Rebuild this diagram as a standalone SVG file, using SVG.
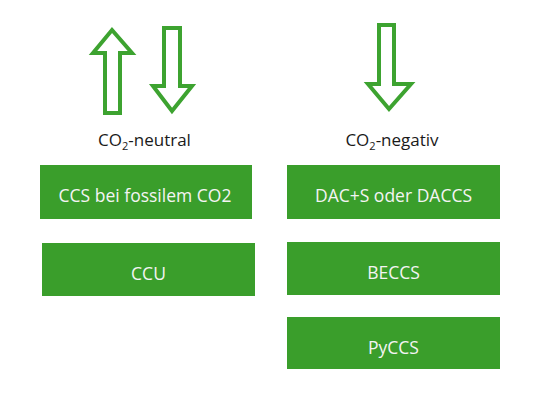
<svg xmlns="http://www.w3.org/2000/svg" width="540" height="400" viewBox="0 0 540 400">
<style>
.arrow{fill:#ffffff;stroke:#3da330;stroke-width:4;stroke-linejoin:miter}
.box{fill:#3a9e2b}
.bt{font-family:"Open Sans","Noto Sans",sans-serif;font-size:17.5px;fill:#f4f4f4;text-anchor:middle}
.lbl{font-family:"Open Sans","Noto Sans",sans-serif;font-size:17px;fill:#1a1a1a;text-anchor:middle}
</style>
<rect width="540" height="400" fill="#ffffff"/>
<g id="arrows">
<path class="arrow" d="M112,30 L132,53 L120,53 L120,113 L105,113 L105,53 L93,53 Z"/>
<path class="arrow" d="M164,28 L180,28 L180,86 L192,86 L172,111 L153,86 L164,86 Z"/>
<path class="arrow" d="M379,25 L394,25 L394,84 L411,84 L389,109 L368,84 L379,84 Z"/>
</g>
<g id="label-neutral">
<text class="lbl" x="144.5" y="146">CO<tspan font-size="11" dy="4">2</tspan><tspan dy="-4">-neutral</tspan></text>
</g>
<g id="label-negativ">
<text class="lbl" x="392" y="146">CO<tspan font-size="11" dy="4">2</tspan><tspan dy="-4">-negativ</tspan></text>
</g>
<g id="ccs-fossil">
<rect class="box" x="40" y="165" width="212" height="54"/>
<text class="bt" x="145" y="202">CCS bei fossilem CO2</text>
</g>
<g id="ccu">
<rect class="box" x="42" y="243" width="213" height="53"/>
<text class="bt" x="148.5" y="280">CCU</text>
</g>
<g id="daccs">
<rect class="box" x="287" y="165" width="213" height="54"/>
<text class="bt" x="393.5" y="202">DAC+S oder DACCS</text>
</g>
<g id="beccs">
<rect class="box" x="287" y="242" width="213" height="53"/>
<text class="bt" x="393.5" y="279">BECCS</text>
</g>
<g id="pyccs">
<rect class="box" x="287" y="317" width="213" height="52"/>
<text class="bt" x="393.5" y="354">PyCCS</text>
</g>
</svg>
